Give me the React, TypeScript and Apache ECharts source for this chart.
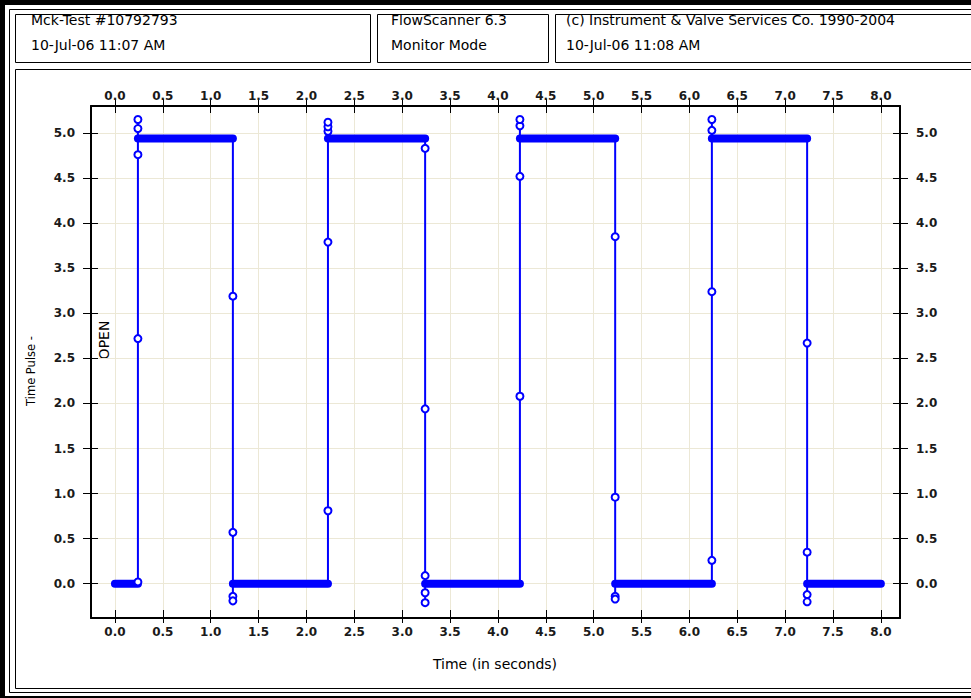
import React, { useEffect, useRef } from "react";
import * as echarts from "echarts";

// ---- data ----
const xTicks = [0.0, 0.5, 1.0, 1.5, 2.0, 2.5, 3.0, 3.5, 4.0, 4.5, 5.0, 5.5, 6.0, 6.5, 7.0, 7.5, 8.0];
const yTicks = [0.0, 0.5, 1.0, 1.5, 2.0, 2.5, 3.0, 3.5, 4.0, 4.5, 5.0];

const startTime = 0.0;
const endTime = 8.0;
// levels of the flat (densely sampled) stretches
const plateauLevel = [0.0, 4.94, 0.0, 4.94, 0.0, 4.94, 0.0, 4.94, 0.0];
// times of the transitions between stretches
const edgeTime = [0.24, 1.232, 2.225, 3.24, 4.23, 5.225, 6.235, 7.23];
// samples caught during each transition
const edge1 = [0.02, 2.72, 4.76, 5.05, 5.15];
const edge2 = [3.19, 0.57, -0.14, -0.19];
const edge3 = [0.81, 3.79, 5.02, 5.07, 5.12];
const edge4 = [4.83, 1.94, 0.09, -0.1, -0.21];
const edge5 = [2.08, 4.52, 5.08, 5.15];
const edge6 = [3.85, 0.96, -0.14, -0.17];
const edge7 = [0.26, 3.24, 5.03, 5.15];
const edge8 = [2.67, 0.35, -0.12, -0.2];
const edgeSamples = [edge1, edge2, edge3, edge4, edge5, edge6, edge7, edge8];

const headerLeft = ["Mck-Test #10792793", "10-Jul-06 11:07 AM"];
const headerMid = ["FlowScanner 6.3", "Monitor Mode"];
const headerRight = ["(c) Instrument & Valve Services Co. 1990-2004", "10-Jul-06 11:08 AM"];

const X_MIN = -0.25;
const X_MAX = 8.2;
const Y_MIN = -0.38;
const Y_MAX = 5.3;

const BLUE = "#0000ff";
const GRIDC = "#ece8d6";
const TICK_FONT = "'DejaVu Sans', Verdana, sans-serif";
const HEAD_FONT = "'DejaVu Sans', 'Liberation Sans', sans-serif";

export default function App() {
  const ref = useRef<HTMLDivElement>(null);

  useEffect(() => {
    if (!ref.current) return;
    const chart = echarts.init(ref.current, null, { renderer: "svg" });

    const nP = plateauLevel.length;
    const pStart = (i: number) => (i === 0 ? startTime : edgeTime[i - 1]);
    const pEnd = (i: number) => (i === nP - 1 ? endTime : edgeTime[i]);

    const mainData: any[] = [];
    for (let i = 0; i < nP; i++) {
      mainData.push({ value: [pStart(i), plateauLevel[i]], symbol: "none" });
      mainData.push({ value: [pEnd(i), plateauLevel[i]], symbol: "none" });
      if (i < edgeTime.length) {
        edgeSamples[i].forEach((v) => mainData.push([edgeTime[i], v]));
      }
    }

    const bandSeries = plateauLevel.map((lv, i) => ({
      type: "line",
      xAxisIndex: 0,
      yAxisIndex: 0,
      data: [
        [pStart(i), lv],
        [pEnd(i), lv],
      ],
      symbol: "none",
      silent: true,
      lineStyle: { color: BLUE, width: 8, cap: "round" },
      z: 3,
    }));

    const fmt = (v: number) => v.toFixed(1);
    const labelStyle = {
      fontFamily: TICK_FONT,
      fontSize: 12,
      fontWeight: "bold",
      color: "#1a1a1a",
    };
    const axisLineOn = { show: true, onZero: false, lineStyle: { color: "#000", width: 2 } };
    const axisLineOff = { show: false, onZero: false };

    const xAx = (pos: string, opts: any) => ({
      type: "value",
      position: pos,
      min: X_MIN,
      max: X_MAX,
      ...opts,
    });
    const yAx = (pos: string, opts: any) => ({
      type: "value",
      position: pos,
      min: Y_MIN,
      max: Y_MAX,
      ...opts,
    });

    const txt = (x: number, y: number, text: string, size: number, extra: any = {}) => ({
      type: "text",
      x,
      y,
      silent: true,
      ...extra,
      style: {
        text,
        font: `${extra.weight || "normal"} ${size}px ${HEAD_FONT}`,
        fill: "#000",
        verticalAlign: "middle",
        align: extra.align || "left",
      },
    });

    const option: any = {
      animation: false,
      backgroundColor: "#ffffff",
      grid: { left: 91, top: 106, width: 809, height: 512, containLabel: false },
      xAxis: [
        xAx("bottom", {
          axisLine: axisLineOn,
          axisTick: { show: true, customValues: xTicks, inside: false, length: 5, lineStyle: { color: "#000", width: 1 } },
          axisLabel: { show: true, customValues: xTicks, formatter: fmt, margin: 8, ...labelStyle },
          splitLine: { show: true, lineStyle: { color: GRIDC, width: 1 } },
        }),
        xAx("top", {
          axisLine: axisLineOn,
          axisTick: { show: true, customValues: xTicks, inside: false, length: 7, lineStyle: { color: "#000", width: 1 } },
          axisLabel: { show: true, customValues: xTicks, formatter: fmt, margin: 4, ...labelStyle },
          splitLine: { show: false },
        }),
        xAx("bottom", {
          axisLine: axisLineOff,
          axisTick: { show: true, customValues: xTicks, inside: true, length: 8, lineStyle: { color: "#000", width: 1 } },
          axisLabel: { show: false },
          splitLine: { show: false },
        }),
        xAx("top", {
          axisLine: axisLineOff,
          axisTick: { show: true, customValues: xTicks, inside: true, length: 7, lineStyle: { color: "#000", width: 1 } },
          axisLabel: { show: false },
          splitLine: { show: false },
        }),
      ],
      yAxis: [
        yAx("left", {
          axisLine: axisLineOn,
          axisTick: { show: true, customValues: yTicks, inside: false, length: 8, lineStyle: { color: "#000", width: 1 } },
          axisLabel: { show: true, customValues: yTicks, formatter: fmt, margin: 16, ...labelStyle },
          splitLine: { show: true, lineStyle: { color: GRIDC, width: 1 } },
        }),
        yAx("right", {
          axisLine: axisLineOn,
          axisTick: { show: true, customValues: yTicks, inside: false, length: 8, lineStyle: { color: "#000", width: 1 } },
          axisLabel: { show: true, customValues: yTicks, formatter: fmt, margin: 16, ...labelStyle },
          splitLine: { show: false },
        }),
        yAx("left", {
          axisLine: axisLineOff,
          axisTick: { show: true, customValues: yTicks, inside: true, length: 7, lineStyle: { color: "#000", width: 1 } },
          axisLabel: { show: false },
          splitLine: { show: false },
        }),
        yAx("right", {
          axisLine: axisLineOff,
          axisTick: { show: true, customValues: yTicks, inside: true, length: 7, lineStyle: { color: "#000", width: 1 } },
          axisLabel: { show: false },
          splitLine: { show: false },
        }),
      ],
      series: [
        ...bandSeries,
        {
          type: "line",
          xAxisIndex: 0,
          yAxisIndex: 0,
          data: mainData,
          symbol: "emptyCircle",
          symbolSize: 7,
          showSymbol: true,
          showAllSymbol: true,
          lineStyle: { color: BLUE, width: 2 },
          itemStyle: { color: BLUE, borderColor: BLUE, borderWidth: 2.5 },
          z: 4,
        },
      ],
      graphic: [
        // outer thick frame
        { type: "rect", shape: { x: 0, y: 0, width: 5, height: 698 }, style: { fill: "#000" }, silent: true },
        { type: "rect", shape: { x: 0, y: 0, width: 971, height: 5 }, style: { fill: "#000" }, silent: true },
        { type: "rect", shape: { x: 0, y: 696, width: 971, height: 2 }, style: { fill: "#000" }, silent: true },
        // thin inner frame
        { type: "rect", shape: { x: 9.5, y: 9.5, width: 1000, height: 683 }, style: { fill: "none", stroke: "#000", lineWidth: 1 }, silent: true },
        // header boxes
        { type: "rect", shape: { x: 15.5, y: 14.5, width: 355, height: 48 }, style: { fill: "none", stroke: "#000", lineWidth: 1 }, silent: true },
        { type: "rect", shape: { x: 377.5, y: 14.5, width: 171, height: 48 }, style: { fill: "none", stroke: "#000", lineWidth: 1 }, silent: true },
        { type: "rect", shape: { x: 555.5, y: 14.5, width: 500, height: 48 }, style: { fill: "none", stroke: "#000", lineWidth: 1 }, silent: true },
        // chart box
        { type: "rect", shape: { x: 15.5, y: 69.5, width: 1000, height: 619 }, style: { fill: "none", stroke: "#000", lineWidth: 1 }, silent: true },
        // header texts
        txt(31, 20, headerLeft[0], 14),
        txt(31, 45, headerLeft[1], 14),
        txt(391, 20, headerMid[0], 14),
        txt(391, 45, headerMid[1], 14),
        txt(566, 20, headerRight[0], 14),
        txt(566, 45, headerRight[1], 14),
        // y axis name (two pieces)
        txt(31, 371, "Time Pulse -", 11.5, { rotation: Math.PI / 2, align: "center" }),
        txt(104, 340, "OPEN", 14, { rotation: Math.PI / 2, align: "center" }),
        // x axis name
        txt(495, 664, "Time (in seconds)", 14, { align: "center" }),
      ],
    };

    chart.setOption(option);
    return () => chart.dispose();
  }, []);

  return (
    <div
      ref={ref}
      style={{ position: "fixed", left: 0, top: 0, width: 971, height: 698, background: "#fff" }}
    />
  );
}
